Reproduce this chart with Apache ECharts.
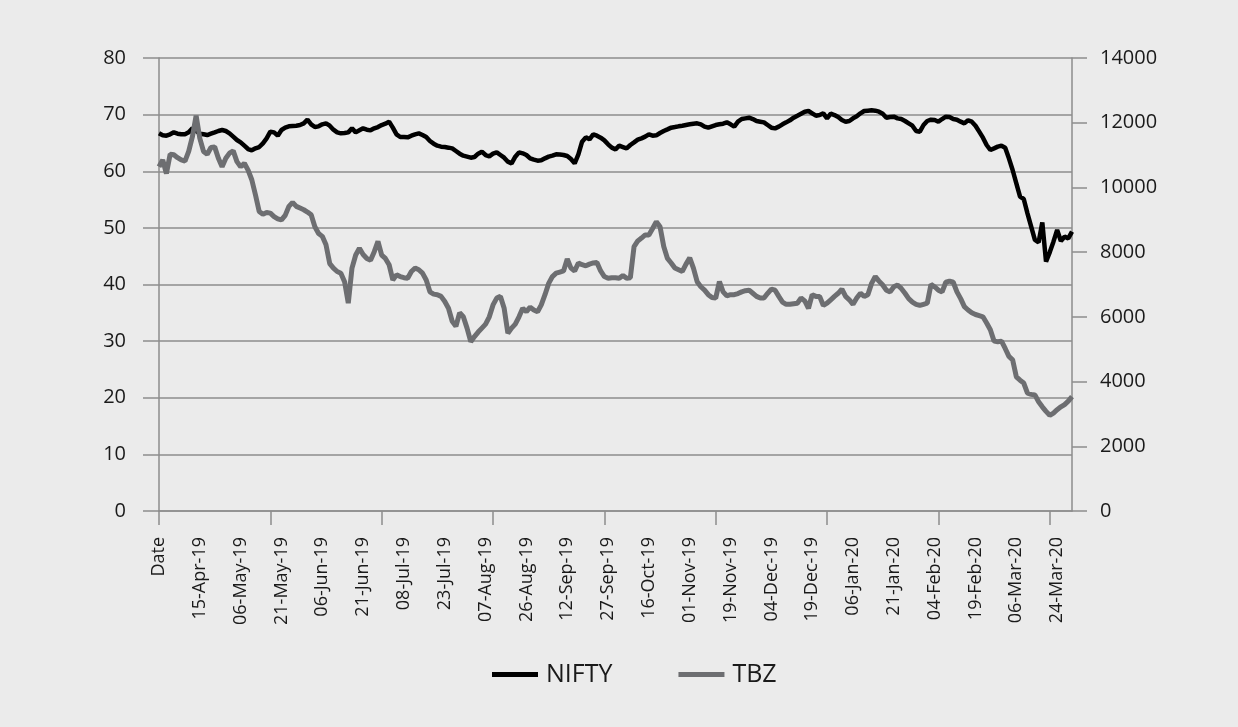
<!DOCTYPE html>
<html>
<head>
    <meta charset="utf-8">
    <title>NIFTY vs TBZ</title>
    <script src="https://cdn.jsdelivr.net/npm/echarts@6/dist/echarts.min.js"></script>
    <style>
        html, body { margin: 0; padding: 0; background: #ebebeb; }
    </style>
</head>
<body>
    <div id="main" style="width: 1238px;height:727px;"></div>
    <script type="text/javascript">
        // trading days per month (NSE), first category is the header cell "Date"
        var months = [
            ['Apr', '19', [1,2,3,4,5,8,9,10,11,12,15,16,18,22,23,24,25,26,30]],
            ['May', '19', [2,3,6,7,8,9,10,13,14,15,16,17,20,21,22,23,24,27,28,29,30,31]],
            ['Jun', '19', [3,4,6,7,10,11,12,13,14,17,18,19,20,21,24,25,26,27,28]],
            ['Jul', '19', [1,2,3,4,5,8,9,10,11,12,15,16,17,18,19,22,23,24,25,26,29,30,31]],
            ['Aug', '19', [1,2,5,6,7,8,9,13,14,16,19,20,21,22,23,26,27,28,29,30]],
            ['Sep', '19', [3,4,5,6,9,11,12,13,16,17,18,19,20,23,24,25,26,27,30]],
            ['Oct', '19', [1,3,4,7,9,10,11,14,15,16,17,18,22,23,24,25,27,29,30,31]],
            ['Nov', '19', [1,4,5,6,7,8,11,13,14,15,18,19,20,21,22,25,26,27,28,29]],
            ['Dec', '19', [2,3,4,5,6,9,10,11,12,13,16,17,18,19,20,23,24,26,27,30,31]],
            ['Jan', '20', [1,2,3,6,7,8,9,10,13,14,15,16,17,20,21,22,23,24,27,28,29,30,31]],
            ['Feb', '20', [1,3,4,5,6,7,10,11,12,13,14,17,18,19,20,24,25,26,27,28]],
            ['Mar', '20', [2,3,4,5,6,9,11,12,13,16,17,18,19,20,23,24,25,26,27,30]]
        ];
        var categories = ['Date'];
        months.forEach(function (m) {
            m[2].forEach(function (d) {
                categories.push((d < 10 ? '0' + d : '' + d) + '-' + m[0] + '-' + m[1]);
            });
        });

        var nifty = [
            11672,11610,11599,11641,11702,11661,11641,11644,11702,11826,
            11744,11661,11641,11620,11661,11702,11744,11775,11744,11672,
            11569,11466,11393,11290,11187,11146,11208,11249,11363,11517,
            11723,11702,11599,11775,11847,11888,11898,11908,11929,11981,
            12094,11950,11867,11888,11950,11981,11908,11785,11702,11672,
            11682,11702,11826,11702,11764,11826,11785,11764,11826,11867,
            11929,11970,12032,11847,11641,11558,11555,11548,11599,11641,
            11672,11620,11558,11435,11352,11290,11260,11249,11229,11208,
            11126,11043,10981,10951,10920,10940,11043,11105,11002,10961,
            11043,11084,11002,10920,10796,10744,10951,11084,11054,11002,
            10899,10858,10827,10837,10899,10951,10981,11023,11020,11002,
            10971,10878,10744,11023,11414,11548,11486,11641,11599,11538,
            11455,11332,11229,11177,11290,11249,11208,11311,11393,11476,
            11517,11569,11641,11599,11610,11682,11744,11795,11847,11867,
            11888,11908,11929,11950,11970,11981,11950,11878,11847,11888,
            11929,11950,11970,12011,11950,11878,12032,12114,12135,12156,
            12114,12053,12032,12011,11929,11847,11826,11878,11950,12011,
            12073,12156,12217,12279,12341,12362,12290,12217,12238,12290,
            12135,12279,12238,12176,12084,12032,12053,12135,12197,12290,
            12362,12372,12382,12372,12341,12279,12156,12176,12187,12135,
            12114,12053,11981,11908,11744,11723,11929,12053,12094,12084,
            12032,12114,12187,12176,12114,12094,12032,11981,12073,12032,
            11908,11723,11538,11311,11157,11208,11260,11290,11229,10899,
            10538,10126,9714,9642,9199,8787,8376,8303,8921,7706,
            7994,8324,8685,8345,8478,8427,8633
        ];
        var tbz = [
            60.8,62.0,59.6,63.0,62.9,62.4,62.0,61.8,63.5,66.1,
            69.8,65.8,63.5,63.0,64.2,64.3,62.3,60.8,62.3,63.2,
            63.6,61.7,60.8,61.4,60.2,58.5,55.8,52.9,52.4,52.7,
            52.6,52.0,51.6,51.4,52.2,53.8,54.5,53.8,53.5,53.2,
            52.8,52.3,50.2,49.0,48.5,47.0,43.7,42.9,42.3,42.0,
            40.5,36.7,42.9,45.2,46.4,45.3,44.6,44.3,45.8,47.6,
            45.2,44.6,43.5,40.8,41.7,41.4,41.2,41.1,42.3,42.9,
            42.6,42.0,40.8,38.7,38.3,38.2,37.9,37.0,35.8,33.5,
            32.6,35.0,34.3,32.3,29.9,30.8,31.6,32.3,33.0,34.3,
            36.4,37.6,37.9,35.8,31.4,32.3,33.0,34.3,35.8,35.2,
            36.0,35.5,35.2,36.4,38.2,40.2,41.4,42.0,42.2,42.4,
            44.5,42.9,42.4,43.8,43.5,43.3,43.6,43.8,43.9,42.4,
            41.4,41.1,41.2,41.2,41.1,41.6,41.1,41.2,46.7,47.7,
            48.2,48.75,48.75,49.9,51.1,50.2,46.7,44.6,43.8,42.9,
            42.6,42.3,43.6,44.7,42.9,40.5,39.6,39.0,38.2,37.7,
            37.6,40.5,38.7,38.0,38.2,38.2,38.4,38.7,38.9,39.0,
            38.45,37.9,37.6,37.6,38.45,39.2,39.0,37.9,36.9,36.5,
            36.5,36.6,36.7,37.6,37.1,35.8,38.2,37.9,37.9,36.3,
            36.7,37.3,37.9,38.45,39.2,37.9,37.3,36.5,37.6,38.45,
            37.9,38.2,40.2,41.4,40.6,39.9,39.0,38.7,39.6,39.9,
            39.3,38.45,37.5,36.9,36.5,36.3,36.5,36.7,40.0,39.6,
            39.0,38.7,40.4,40.6,40.4,38.7,37.5,36.1,35.5,35.0,
            34.7,34.5,34.3,33.2,32.0,30.0,29.9,30.0,28.7,27.3,
            26.7,23.7,23.1,22.6,20.8,20.6,20.5,19.3,18.4,17.6,
            16.9,17.3,17.9,18.4,18.8,19.4,20.2
        ];

        var gridColor = '#8d8d8d';
        var font = '"Open Sans", "DejaVu Sans", sans-serif';
        var myChart = echarts.init(document.getElementById('main'));
        var option = {
            backgroundColor: '#ebebeb',
            animation: false,
            textStyle: { fontFamily: font, color: '#1a1a1a' },
            grid: { left: 159, right: 166, top: 58, bottom: 216 },
            legend: {
                data: ['NIFTY', 'TBZ'],
                top: 657,
                left: 487,
                icon: 'rect',
                itemWidth: 46,
                itemHeight: 5,
                itemGap: 66,
                textStyle: { fontSize: 25, color: '#1a1a1a', fontFamily: font, padding: [0, 0, 0, 3] }
            },
            xAxis: {
                type: 'category',
                data: categories,
                boundaryGap: false,
                axisLine: { lineStyle: { color: gridColor, width: 1.5 } },
                axisTick: { interval: 29, length: 14, lineStyle: { color: gridColor, width: 1.5 } },
                axisLabel: { interval: 10, rotate: 90, margin: 26, fontSize: 18, color: '#1a1a1a' },
                splitLine: { show: false }
            },
            yAxis: [{
                type: 'value',
                min: 0, max: 80, interval: 10,
                axisLine: { show: true, lineStyle: { color: gridColor, width: 1.5 } },
                axisTick: { show: true, length: 16, lineStyle: { color: gridColor, width: 1.5 } },
                axisLabel: { margin: 33, fontSize: 20, color: '#1a1a1a' },
                splitLine: { lineStyle: { color: gridColor, width: 1.5 } }
            }, {
                type: 'value',
                min: 0, max: 14000, interval: 2000,
                axisLine: { show: true, lineStyle: { color: gridColor, width: 1.5 } },
                axisTick: { show: true, length: 15, lineStyle: { color: gridColor, width: 1.5 } },
                axisLabel: { margin: 28, fontSize: 20, color: '#1a1a1a', formatter: function (v) { return String(v); } },
                splitLine: { show: false }
            }],
            series: [{
                name: 'NIFTY',
                type: 'line',
                yAxisIndex: 1,
                data: nifty,
                symbol: 'none',
                color: '#000000',
                lineStyle: { width: 4.5, color: '#000000' }
            }, {
                name: 'TBZ',
                type: 'line',
                yAxisIndex: 0,
                data: tbz,
                symbol: 'none',
                color: '#6d6e71',
                lineStyle: { width: 5, color: '#6d6e71' }
            }]
        };
        myChart.setOption(option);
    </script>
</body>
</html>
